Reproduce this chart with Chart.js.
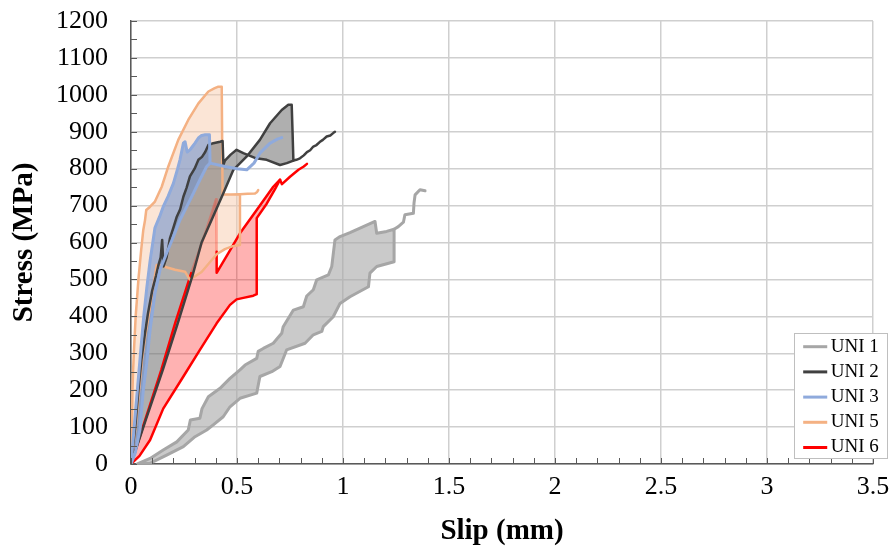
<!DOCTYPE html>
<html><head><meta charset="utf-8">
<script src="https://cdn.jsdelivr.net/npm/chart.js@4/dist/chart.umd.min.js"></script>
<style>html,body{margin:0;padding:0;background:#fff;}canvas{display:block;}</style>
</head><body>
<canvas id="c" width="894" height="558"></canvas>
<script>
// ---------- data ----------
const seriesNames = ['UNI 1', 'UNI 2', 'UNI 3', 'UNI 5', 'UNI 6'];
const xTickValues = [0, 0.5, 1, 1.5, 2, 2.5, 3, 3.5];
const xTickLabels = ['0', '0.5', '1', '1.5', '2', '2.5', '3', '3.5'];
const yTickValues = [0, 100, 200, 300, 400, 500, 600, 700, 800, 900, 1000, 1100, 1200];
const yTickLabels = ['0', '100', '200', '300', '400', '500', '600', '700', '800', '900', '1000', '1100', '1200'];
const xMinorStep = 0.1;
const yMinorStep = 50;

// UNI 1 : enclosed band (slip mm, stress MPa) + open end
const uni1Slip = [0.03,0.09,0.152,0.216,0.27,0.28,0.325,0.335,0.365,0.42,0.467,0.514,0.538,0.593,0.6,0.624,0.671,0.711,0.718,0.766,0.813,0.829,0.86,0.876,0.931,0.947,0.962,0.986,1.033,1.096,1.151,1.159,1.206,1.241,1.241,1.159,1.127,1.12,1.033,0.986,0.954,0.907,0.9,0.86,0.821,0.734,0.703,0.664,0.608,0.593,0.514,0.467,0.435,0.388,0.357,0.302,0.247,0.168,0.09,0.05,0.03];
const uni1Stress = [0,15,38,60,92,119,124,150,182,205,232,255,268,286,305,313,327,354,372,417,426,455,472,499,512,535,607,616,627,643,657,625,630,636,548,535,517,480,453,435,399,372,359,350,327,309,264,250,237,192,178,155,128,106,92,74,47,24,2,0,0];
const uni1TailSlip = [1.241,1.261,1.285,1.292,1.332,1.335,1.34,1.363,1.387];
const uni1TailStress = [636,643,655,675,679,707,729,743,740];

// UNI 2
const uni2Slip = [0,0.02,0.035,0.049,0.065,0.08,0.1,0.118,0.13,0.14,0.147,0.153,0.168,0.184,0.2,0.216,0.232,0.247,0.262,0.278,0.3,0.318,0.335,0.35,0.365,0.388,0.42,0.432,0.436,0.443,0.47,0.498,0.53,0.59,0.64,0.703,0.735,0.766,0.762,0.758,0.742,0.711,0.656,0.608,0.546,0.483,0.435,0.38,0.333,0.29,0.22,0.15,0.07,0];
const uni2Stress = [0,100,200,282,350,408,470,510,540,560,607,535,560,612,640,670,690,724,748,779,800,824,832,845,864,869,873,875,810,822,838,851,842,828,824,810,815,822,900,973,973,959,923,878,833,797,733,661,600,510,380,255,120,0];
const uni2TailSlip = [0.766,0.78,0.797,0.815,0.83,0.845,0.86,0.875,0.89,0.905,0.923,0.94,0.955,0.962];
const uni2TailStress = [822,824,828,836,845,850,860,864,872,878,887,890,897,900];

// UNI 3
const uni3Slip = [0,0.015,0.03,0.045,0.06,0.075,0.09,0.113,0.135,0.152,0.175,0.2,0.22,0.231,0.247,0.255,0.265,0.278,0.29,0.302,0.318,0.333,0.35,0.37,0.373,0.357,0.325,0.294,0.263,0.231,0.2,0.168,0.137,0.113,0.09,0.074,0.058,0.042,0.02,0];
const uni3Stress = [0,100,200,300,400,480,550,640,670,697,725,760,800,824,869,873,845,851,860,869,883,890,892,892,815,806,770,733,697,661,616,571,526,463,363,273,200,92,30,0];
const uni3TailSlip = [0.373,0.443,0.5,0.546,0.58,0.608,0.656,0.69,0.711];
const uni3TailStress = [815,806,800,797,815,842,869,880,884];

// UNI 5
const uni5Slip = [0,0.004,0.007,0.01,0.015,0.022,0.035,0.048,0.058,0.066,0.072,0.09,0.113,0.145,0.176,0.223,0.27,0.318,0.365,0.395,0.412,0.428,0.432,0.47,0.514,0.514,0.48,0.443,0.404,0.333,0.278,0.255,0.208,0.129,0.121,0.105,0.085,0.068,0.052,0.038,0.022,0];
const uni5Stress = [0,100,200,255,320,400,500,580,634,660,688,697,711,751,806,878,932,977,1009,1018,1022,1022,730,730,731,593,590,582,568,520,499,521,526,539,539,480,408,350,282,200,100,0];
const uni5TailSlip = [0.514,0.55,0.585,0.595,0.6];
const uni5TailStress = [731,732,733,737,742];

// UNI 6
const uni6Slip = [0,0.07,0.143,0.21,0.284,0.35,0.401,0.404,0.404,0.46,0.514,0.593,0.671,0.703,0.68,0.64,0.593,0.593,0.577,0.53,0.498,0.467,0.404,0.325,0.247,0.152,0.09,0.04,0];
const uni6Stress = [0,125,255,385,517,625,717,575,518,572,625,688,751,770,745,705,666,460,456,450,446,431,381,309,237,150,65,22,0];
const uni6TailSlip = [0.703,0.712,0.75,0.79,0.815,0.83];
const uni6TailStress = [770,758,778,797,806,813];
const uni6HiddenFrom = 4;   // part of the outline lying under the UNI 5 area
const uni6HiddenTo = 7;

// ---------- styling ----------
const lineColors = ['#A6A6A6', '#404040', '#8FAADC', '#F4B183', '#FF0000'];
const fillColors = ['rgba(166,166,166,0.6)', 'rgba(110,110,110,0.55)', 'rgba(110,145,205,0.58)', 'rgba(248,203,173,0.5)', 'rgba(255,0,0,0.3)'];
const lineWidths = [3, 2.5, 3, 2.5, 2.5];
const drawOrder = [50, 20, 10, 30, 40]; // lower = drawn later (on top)

const pts = (xs, ys) => xs.map((x, i) => ({ x: x, y: ys[i] }));

function area(i, xs, ys, withLine) {
  return {
    label: seriesNames[i], data: pts(xs, ys), fill: 'shape',
    backgroundColor: fillColors[i],
    borderColor: withLine ? lineColors[i] : 'rgba(0,0,0,0)',
    borderWidth: lineWidths[i], borderJoinStyle: 'round', borderCapStyle: 'round',
    pointRadius: 0, pointHoverRadius: 0, pointBorderWidth: 0, tension: 0, order: drawOrder[i]
  };
}
function path(i, data, color) {
  return {
    label: seriesNames[i], isExtra: true, data: data, fill: false,
    borderColor: color || lineColors[i], backgroundColor: 'rgba(0,0,0,0)',
    borderWidth: lineWidths[i], borderJoinStyle: 'round', borderCapStyle: 'round',
    pointRadius: 0, pointHoverRadius: 0, pointBorderWidth: 0, tension: 0, order: drawOrder[i]
  };
}

const uni6Pts = pts(uni6Slip, uni6Stress);
const datasets = [
  area(0, uni1Slip, uni1Stress, true),
  area(1, uni2Slip, uni2Stress, true),
  area(2, uni3Slip, uni3Stress, true),
  area(3, uni5Slip, uni5Stress, true),
  area(4, uni6Slip, uni6Stress, false),
  path(0, pts(uni1TailSlip, uni1TailStress)),
  path(1, pts(uni2TailSlip, uni2TailStress)),
  path(2, pts(uni3TailSlip, uni3TailStress)),
  path(3, pts(uni5TailSlip, uni5TailStress)),
  path(4, uni6Pts.slice(uni6HiddenTo).concat(uni6Pts.slice(1, uni6HiddenFrom + 1))),
  path(4, uni6Pts.slice(uni6HiddenFrom, uni6HiddenTo + 1), 'rgba(255,60,40,0.35)'),
  path(4, pts(uni6TailSlip, uni6TailStress))
];

const serif = 'Liberation Serif, "Times New Roman", serif';

const decor = {
  id: 'decor',
  afterLayout(chart) {
    const lg = chart.legend;
    if (!lg) return;
    lg.left = 803; lg.top = 331; lg.right = 890; lg.bottom = 478;
    lg.width = lg.right - lg.left; lg.height = lg.bottom - lg.top;
  },
  afterDatasetsDraw(chart) {
    const { ctx, scales: { x, y } } = chart;
    ctx.save();
    ctx.strokeStyle = '#595959';
    ctx.lineWidth = 1;
    ctx.beginPath();
    const nx = Math.round((x.max - x.min) / xMinorStep);
    for (let k = 0; k <= nx; k++) {
      const px = Math.round(x.getPixelForValue(x.min + k * xMinorStep)) + 0.5;
      ctx.moveTo(px, y.bottom); ctx.lineTo(px, y.bottom - 6);
    }
    const ny = Math.round((y.max - y.min) / yMinorStep);
    for (let k = 0; k <= ny; k++) {
      const py = Math.round(y.getPixelForValue(y.min + k * yMinorStep)) + 0.5;
      ctx.moveTo(x.left, py); ctx.lineTo(x.left + 6, py);
    }
    ctx.stroke();
    ctx.restore();
  },
  afterDraw(chart) {
    const ctx = chart.ctx;
    ctx.save();
    ctx.fillStyle = '#ffffff';
    ctx.fillRect(794, 333, 94, 126);
    ctx.strokeStyle = '#bfbfbf';
    ctx.lineWidth = 1;
    ctx.strokeRect(794.5, 333.5, 93, 125);
    ctx.restore();
    chart.legend.draw();
  }
};

new Chart(document.getElementById('c'), {
  type: 'line',
  data: { datasets: datasets },
  plugins: [decor],
  options: {
    responsive: false,
    animation: false,
    events: [],
    layout: { autoPadding: false, padding: { left: 0, right: 21, top: 21, bottom: 0 } },
    plugins: {
      filler: { drawTime: 'beforeDatasetsDraw', propagate: false },
      tooltip: { enabled: false },
      legend: {
        display: true, position: 'chartArea', fullSize: false, align: 'start',
        labels: {
          usePointStyle: true, pointStyle: 'line', boxWidth: 12, boxHeight: 17, padding: 6.2,
          color: '#000000', font: { family: serif, size: 19 },
          generateLabels: () => seriesNames.map((name, i) => ({
            text: name, fillStyle: lineColors[i], strokeStyle: lineColors[i],
            lineWidth: 3, pointStyle: 'line', hidden: false, datasetIndex: i, fontColor: '#000000'
          }))
        }
      }
    },
    scales: {
      x: {
        type: 'linear', min: 0, max: 3.5,
        afterBuildTicks: s => { s.ticks = xTickValues.map(v => ({ value: v })); },
        afterFit: s => { s.height = 94; s.paddingLeft = 0; s.paddingRight = 0; },
        ticks: {
          callback: (v, i) => xTickLabels[i], autoSkip: false, maxRotation: 0,
          color: '#000000', padding: 8, font: { family: serif, size: 26 }
        },
        grid: { color: '#cfcfcf', lineWidth: 1.5, drawTicks: false },
        border: { display: true, color: '#595959', width: 1.5 },
        title: { display: true, text: 'Slip (mm)', color: '#000000',
          font: { family: serif, size: 29, weight: 'bold' }, padding: { top: 0, bottom: 9 } }
      },
      y: {
        type: 'linear', min: 0, max: 1200,
        afterBuildTicks: s => { s.ticks = yTickValues.map(v => ({ value: v })); },
        afterFit: s => { s.width = 131; s.paddingTop = 0; s.paddingBottom = 0; },
        ticks: {
          callback: (v, i) => yTickLabels[i], autoSkip: false,
          color: '#000000', padding: 23, font: { family: serif, size: 26 }
        },
        grid: { color: '#cfcfcf', lineWidth: 1.5, drawTicks: false },
        border: { display: true, color: '#595959', width: 1.5 },
        title: { display: true, text: 'Stress (MPa)', color: '#000000',
          font: { family: serif, size: 29, weight: 'bold' }, padding: { top: 7, bottom: 0 } }
      }
    }
  }
});
</script>
</body></html>
